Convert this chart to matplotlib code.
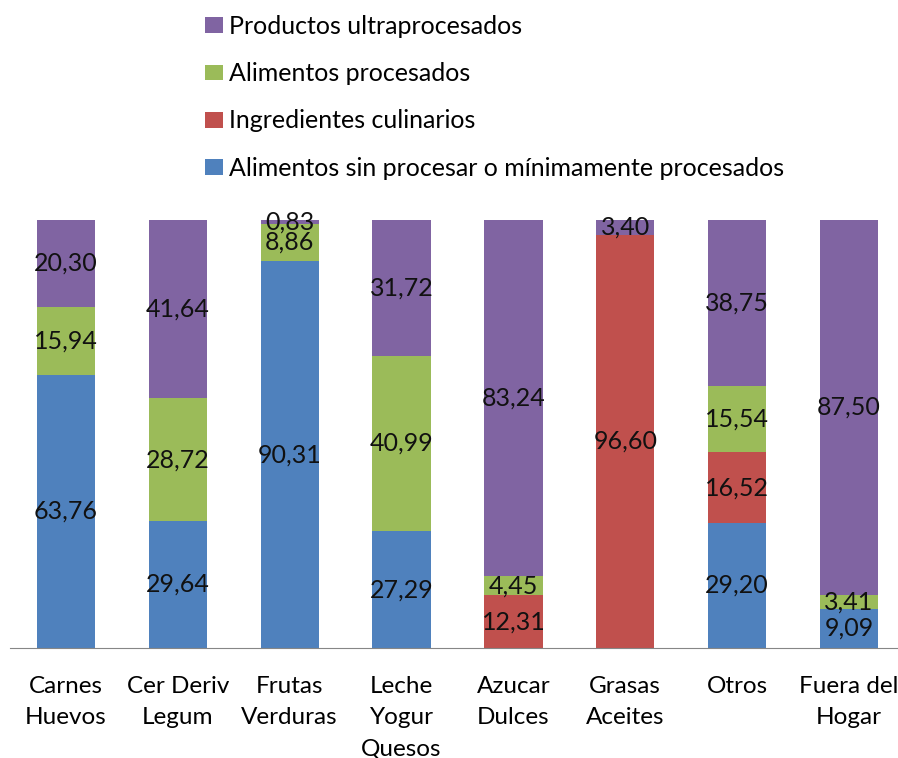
import matplotlib.pyplot as plt
import numpy as np

plt.rcParams['font.family'] = ['Lato', 'DejaVu Sans']

categories = ['Carnes\nHuevos', 'Cer Deriv\nLegum', 'Frutas\nVerduras', 'Leche\nYogur\nQuesos',
              'Azucar\nDulces', 'Grasas\nAceites', 'Otros', 'Fuera del\nHogar']
sin_procesar = [63.76, 29.64, 90.31, 27.29, 0, 0, 29.20, 9.09]
ingredientes = [0, 0, 0, 0, 12.31, 96.60, 16.52, 0]
procesados = [15.94, 28.72, 8.86, 40.99, 4.45, 0, 15.54, 3.41]
ultraprocesados = [20.30, 41.64, 0.83, 31.72, 83.24, 3.40, 38.75, 87.50]

series = [
    ('Alimentos sin procesar o mínimamente procesados', sin_procesar, '#4F81BD'),
    ('Ingredientes culinarios', ingredientes, '#C0504D'),
    ('Alimentos procesados', procesados, '#9BBB59'),
    ('Productos ultraprocesados', ultraprocesados, '#8064A2'),
]

W, H = 898, 758
fig = plt.figure(figsize=(W / 100, H / 100), dpi=100)
ax = fig.add_axes([10 / W, (H - 648) / H, 895 / W, 428 / H])

x = np.arange(len(categories))
bottom = np.zeros(len(categories))
handles = []
for name, vals, color in series:
    vals = np.array(vals)
    bars = ax.bar(x, vals, 0.52, bottom=bottom, color=color, label=name)
    labels = [('%.2f' % v).replace('.', ',') if v > 0 else '' for v in vals]
    ax.bar_label(bars, labels=labels, label_type='center', fontsize=18, color='#111111')
    bottom += vals
    handles.append(bars)

ax.set_xlim(-0.5, len(categories) - 0.5)
ax.set_ylim(0, 100)
ax.set_yticks([])
ax.set_xticks(x)
ax.set_xticklabels(categories, fontsize=17.5, linespacing=1.6)
ax.tick_params(axis='x', length=0, pad=20)
for s in ['top', 'left', 'right']:
    ax.spines[s].set_visible(False)
ax.spines['bottom'].set_color('#868686')

fig.legend(handles[::-1], [s[0] for s in series][::-1], loc='upper left',
           bbox_to_anchor=(205 / W, 1 - 15 / H), frameon=False, fontsize=18,
           borderaxespad=0, borderpad=0,
           handlelength=0.7, handleheight=0.6, handletextpad=0.25, labelspacing=0.97)

fig.savefig('out.png', dpi=100)
